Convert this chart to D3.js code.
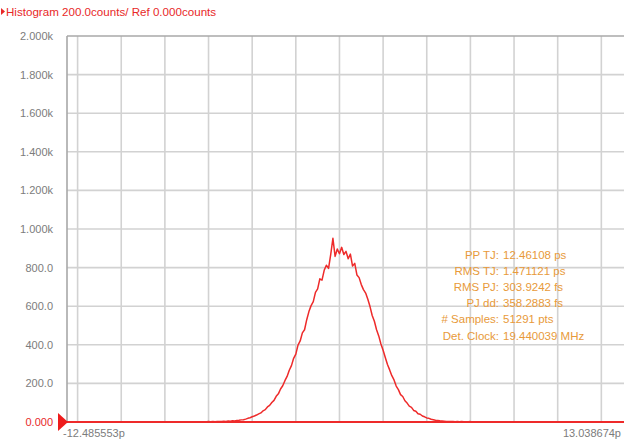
<!DOCTYPE html>
<html><head><meta charset="utf-8">
<script src="https://cdn.jsdelivr.net/npm/d3@7"></script>
<style>
html,body{margin:0;padding:0;background:#fff;}
svg{display:block;font-family:"Liberation Sans",Arial,sans-serif;}
</style></head>
<body>
<svg id="c" width="624" height="441"></svg>
<script>
// histogram bins: first bin centre (ps) and bin width (ps)
const binStart = -6.5;
const binStep = 0.1;
const counts = [
  0,0,1,0,1,2,1,2,1,3,2,3,4,3,5,4,6,5,8,9,
  11,12,15,19,22,27,31,36,42,47,58,64,78,86,101,112,133,146,171,188,
  214,236,268,292,330,352,398,420,462,478,530,572,603,624,672,690,742,735,786,812,
  796,868,952,858,896,872,905,868,884,846,870,808,822,762,748,712,686,668,636,598,
  552,522,478,446,404,372,334,298,270,240,218,186,168,142,132,110,98,82,76,60,
  56,43,40,31,27,21,19,14,12,9,8,6,5,4,3,3,2,3,1,2,
  1,2,1,0,1,2,0,1,0,0,0
];
const xDomain = [-12.485553, 13.038674];
const xLabels = ["-12.485553p", "13.038674p"];
const xGrid = [-12,-10,-8,-6,-4,-2,0,2,4,6,8,10,12];
const yTicks = [0,200,400,600,800,1000,1200,1400,1600,1800,2000];
const yLabels = ["0.000","200.0","400.0","600.0","800.0","1.000k","1.200k","1.400k","1.600k","1.800k","2.000k"];
const title = "Histogram 200.0counts/ Ref 0.000counts";
const statNames = ["PP TJ:","RMS TJ:","RMS PJ:","PJ dd:","# Samples:","Det. Clock:"];
const statValues = ["12.46108 ps","1.471121 ps","303.9242 fs","358.2883 fs","51291 pts","19.440039 MHz"];

const svg = d3.select("#c");
const L = 67, T = 36, R = 624, B = 422;
const x = d3.scaleLinear().domain(xDomain).range([L, R]);
const y = d3.scaleLinear().domain([0, 2000]).range([B, T]);

const grid = svg.append("g").attr("stroke","#d2d2d2").attr("stroke-width",1.6);
grid.selectAll("line.v").data(xGrid).join("line")
  .attr("x1",d=>x(d)).attr("x2",d=>x(d)).attr("y1",T).attr("y2",B);
grid.selectAll("line.h").data(yTicks.slice(1,-1)).join("line")
  .attr("x1",L).attr("x2",R).attr("y1",d=>y(d)).attr("y2",d=>y(d));

// frame
svg.append("line").attr("x1",L).attr("x2",R).attr("y1",T).attr("y2",T).attr("stroke","#a8a8a8").attr("stroke-width",1.6);
svg.append("line").attr("x1",L).attr("x2",L).attr("y1",T).attr("y2",B).attr("stroke","#a8a8a8").attr("stroke-width",1.6);

// y labels
svg.append("g").selectAll("text").data(yTicks).join("text")
  .attr("x",53).attr("y",d=>y(d)+4).attr("text-anchor","end")
  .attr("font-size",11).attr("fill",(d,i)=>i===0?"#e82828":"#7c7c7c")
  .text((d,i)=>yLabels[i]);

// histogram line
const pts = counts.map((c,i)=>[binStart+i*binStep, c]);
svg.append("path").datum(pts)
  .attr("fill","none").attr("stroke","#ee2a2a").attr("stroke-width",1.5).attr("stroke-linejoin","round")
  .attr("d", d3.line().x(d=>x(d[0])).y(d=>y(d[1])));

// reference baseline
svg.append("line").attr("x1",L).attr("x2",R).attr("y1",y(0)).attr("y2",y(0)).attr("stroke","#ee2a2a").attr("stroke-width",2);
svg.append("path").attr("d",`M${L-9},${y(0)-9}L${L+1},${y(0)}L${L-9},${y(0)+9}Z`).attr("fill","#ee1c1c");

// x labels
svg.append("text").attr("x",L-4).attr("y",437).attr("font-size",11).attr("fill","#7c7c7c").text(xLabels[0]);
svg.append("text").attr("x",621).attr("y",437).attr("text-anchor","end").attr("font-size",11).attr("fill","#7c7c7c").text(xLabels[1]);

// title
svg.append("path").attr("d","M1,8L5,11.5L1,15Z").attr("fill","#e82828");
svg.append("text").attr("x",6).attr("y",16).attr("font-size",11.6).attr("fill","#e82828").text(title);

// stats
const st = svg.append("g").attr("font-size",11.5).attr("fill","#e89a3a");
st.selectAll("text.n").data(statNames).join("text")
  .attr("x",499).attr("y",(d,i)=>259+i*16.1).attr("text-anchor","end").text(d=>d);
st.selectAll("text.v").data(statValues).join("text")
  .attr("x",503).attr("y",(d,i)=>259+i*16.1).text(d=>d);
</script>
</body></html>
